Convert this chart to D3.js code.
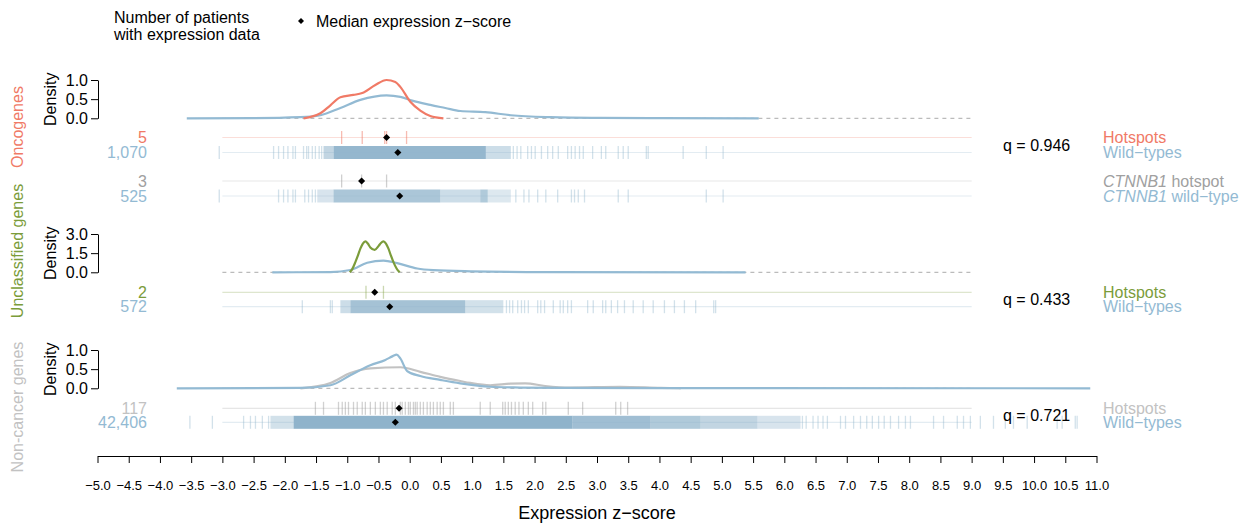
<!DOCTYPE html>
<html>
<head>
<meta charset="utf-8">
<script src="https://cdn.jsdelivr.net/npm/d3@7"></script>
<style>
  body { margin: 0; background: #fff; }
  text { font-family: "Liberation Sans", Arial, Helvetica, sans-serif; }
</style>
</head>
<body>
<svg id="chart"></svg>
<script>
// ---- data ----
const xTickValues = [-5, -4.5, -4, -3.5, -3, -2.5, -2, -1.5, -1, -0.5, 0, 0.5, 1, 1.5, 2, 2.5, 3,
  3.5, 4, 4.5, 5, 5.5, 6, 6.5, 7, 7.5, 8, 8.5, 9, 9.5, 10, 10.5, 11];

const groupNames = ["Oncogenes", "Unclassified genes", "Non-cancer genes"];
const qValues = ["q = 0.946", "q = 0.433", "q = 0.721"];
const densityTicks = [[0, 0.5, 1], [0, 1.5, 3], [0, 0.5, 1]];

const rowCounts = ["5", "1,070", "3", "525", "2", "572", "117", "42,406"];
const rowMedians = [-0.37, -0.19, -0.77, -0.16, -0.56, -0.32, -0.17, -0.23];

// density curves [z, density]
const oncoWildDensity = [[-3.57, 0], [-2.5, 0.005], [-1.75, 0.03], [-1.43, 0.08], [-1.11, 0.27],
  [-0.79, 0.48], [-0.37, 0.6], [-0.15, 0.56], [0.04, 0.46], [0.33, 0.35], [0.57, 0.27], [0.81, 0.19],
  [1.21, 0.16], [1.62, 0.08], [2.25, 0.03], [3.05, 0.01], [4.0, 0.004], [5.59, 0]];
const oncoHotDensity = [[-1.70, 0], [-1.43, 0.13], [-1.27, 0.34], [-1.11, 0.55], [-0.90, 0.61],
  [-0.76, 0.66], [-0.55, 0.87], [-0.37, 1.0], [-0.23, 0.95], [-0.15, 0.82], [0.01, 0.43],
  [0.17, 0.2], [0.33, 0.06], [0.54, 0]];
const uncWildDensity = [[-2.2, 0], [-1.27, 0.02], [-0.95, 0.18], [-0.68, 0.75], [-0.42, 0.92],
  [-0.2, 0.72], [0.12, 0.3], [0.38, 0.17], [0.97, 0.08], [2.2, 0.02], [5.38, 0]];
const uncHotDensity = [[-0.96, 0], [-0.92, 0.25], [-0.87, 0.8], [-0.83, 1.3], [-0.79, 1.85],
  [-0.75, 2.25], [-0.71, 2.42], [-0.67, 2.25], [-0.63, 1.95], [-0.56, 1.76], [-0.50, 2.05],
  [-0.46, 2.3], [-0.42, 2.42], [-0.38, 2.25], [-0.34, 1.85], [-0.30, 1.3], [-0.26, 0.8],
  [-0.21, 0.3], [-0.16, 0]];
const ncWildDensity = [[-3.73, 0], [-1.75, 0.01], [-1.27, 0.08], [-0.95, 0.34], [-0.63, 0.6],
  [-0.39, 0.74], [-0.27, 0.84], [-0.21, 0.88], [-0.15, 0.78], [-0.04, 0.45], [0.17, 0.32],
  [0.49, 0.22], [0.81, 0.13], [1.29, 0.04], [1.77, 0.02], [2.42, 0.01], [4.0, 0.004], [10.9, 0]];
const ncHotDensity = [[-1.75, 0], [-1.27, 0.14], [-0.95, 0.4], [-0.63, 0.52], [-0.15, 0.55],
  [0.17, 0.43], [0.49, 0.3], [0.81, 0.19], [0.97, 0.14], [1.29, 0.08], [1.61, 0.12], [1.85, 0.13],
  [2.17, 0.06], [2.57, 0.02], [3.37, 0.04], [4.02, 0.01], [4.34, 0]];

// rug ticks (single patients) and dense stretches [from, to, opacity]
const oncoHotRug = [-1.09, -0.76, -0.40, -0.37, -0.05];
const oncoWildRug = [-3.05, -2.18, -2.10, -2.02, -1.95, -1.87, -1.83, -1.70, -1.65, -1.62, -1.56,
  -1.51, -1.45, -1.41, 1.66, 1.72, 1.78, 1.89, 1.95, 2.01, 2.11, 2.21, 2.29, 2.38, 2.53, 2.59, 2.65,
  2.72, 2.78, 2.93, 3.07, 3.14, 3.34, 3.42, 3.50, 3.79, 3.82, 4.38, 4.75, 5.02];
const oncoWildBands = [[-1.38, -1.22, 0.55], [-1.22, 1.22, 0.95], [1.22, 1.62, 0.45]];
const ctnnbHotRug = [-1.09, -0.77, -0.37];
const ctnnbWildRug = [-3.05, -2.10, -2.02, -1.95, -1.87, -1.83, -1.68, -1.62, -1.56, -1.51, 1.70,
  1.83, 1.91, 2.05, 2.18, 2.37, 2.59, 2.64, 2.70, 2.80, 3.34, 3.50, 4.75, 5.02];
const ctnnbWildBands = [[-1.48, -1.22, 0.35], [-1.22, 0.49, 0.75], [0.49, 1.13, 0.45],
  [1.13, 1.25, 0.7], [1.25, 1.62, 0.3]];
const uncHotRug = [-0.70, -0.42];
const uncWildRug = [-1.72, -1.27, -1.24, 1.55, 1.60, 1.65, 1.73, 1.79, 1.84, 1.90, 2.05, 2.10,
  2.16, 2.30, 2.41, 2.46, 2.53, 2.59, 2.85, 2.94, 3.09, 3.14, 3.23, 3.33, 3.44, 3.58, 3.74, 3.90,
  4.08, 4.24, 4.40, 4.58, 4.87, 4.90];
const uncWildBands = [[-1.11, -0.95, 0.45], [-0.95, 0.89, 0.8], [0.89, 1.50, 0.4]];
const ncHotRug = [-1.51, -1.38, -1.14, -1.08, -1.03, -0.98, -0.90, -0.84, -0.76, -0.71, -0.63,
  -0.55, -0.47, -0.42, -0.36, -0.28, -0.23, -0.15, -0.12, -0.07, -0.02, 0.01, 0.06, 0.09, 0.12,
  0.17, 0.22, 0.28, 0.33, 0.38, 0.44, 0.49, 0.54, 0.65, 0.70, 1.13, 1.29, 1.49, 1.53, 1.58, 1.63,
  1.69, 1.75, 1.82, 1.90, 1.97, 2.13, 2.18, 2.54, 2.77, 3.30, 3.38, 3.49];
const ncWildRug = [-3.52, -3.16, -2.66, -2.55, -2.47, -2.36, -2.26, 6.29, 6.35, 6.46, 6.54, 6.62,
  6.69, 6.90, 6.98, 7.11, 7.22, 7.32, 7.41, 7.51, 7.60, 7.70, 7.83, 7.94, 8.02, 8.39, 8.55, 8.77,
  8.87, 8.98, 9.14, 9.35, 9.54, 9.67, 9.89, 10.37, 10.45, 10.66, 10.69];
const ncWildBands = [[-2.23, -1.86, 0.4], [-1.86, 2.61, 1.0], [2.61, 3.86, 0.85],
  [3.86, 4.66, 0.7], [4.66, 5.57, 0.55], [5.57, 6.26, 0.35]];

// ---- styling ----
const red = "#f07a66", green = "#7b9c3a", grey = "#c2c2c2", darkGrey = "#a0a0a0";
const blue = "#8fb3cb", blueLine = "#93bad3";

const width = 1249, height = 525;
const svg = d3.select("#chart").attr("width", width).attr("height", height);

const x = d3.scaleLinear().domain([-5, 11]).range([97.5, 1096.5]);
const line = d3.line().x(d => x(d[0])).y(d => d[1]).curve(d3.curveMonotoneX);

// top legend
svg.append("text").attr("x", 114).attr("y", 17).attr("dy", "0.35em")
  .attr("font-size", 16).text("Number of patients");
svg.append("text").attr("x", 114).attr("y", 34).attr("dy", "0.35em")
  .attr("font-size", 16).text("with expression data");
svg.append("path").attr("d", d3.symbol(d3.symbolSquare, 18)())
  .attr("transform", "translate(301,21) rotate(45)").attr("fill", "#000");
svg.append("text").attr("x", 316).attr("y", 21).attr("dy", "0.35em")
  .attr("font-size", 16).text("Median expression z\u2212score");

const panels = [
  {
    name: groupNames[0], color: red, labelY: 127, base: 118.3, ticks: densityTicks[0],
    curves: [[oncoWildDensity, blueLine], [oncoHotDensity, red]], q: qValues[0], qY: 145,
    rows: [
      { y: 137.5, idx: 0, color: red, rug: oncoHotRug, bands: [], label: ["", "Hotspots"], op: 0.5 },
      { y: 152.5, idx: 1, color: blue, rug: oncoWildRug, bands: oncoWildBands, label: ["", "Wild\u2212types"], op: 0.4 },
      { y: 181, idx: 2, color: darkGrey, rug: ctnnbHotRug, bands: [], label: ["CTNNB1", " hotspot"], op: 0.5 },
      { y: 196, idx: 3, color: blue, rug: ctnnbWildRug, bands: ctnnbWildBands, label: ["CTNNB1", " wild\u2212type"], op: 0.4 }
    ]
  },
  {
    name: groupNames[1], color: green, labelY: 251, base: 272.3, ticks: densityTicks[1],
    curves: [[uncWildDensity, blueLine], [uncHotDensity, green]], q: qValues[1], qY: 299,
    rows: [
      { y: 292.3, idx: 4, color: green, rug: uncHotRug, bands: [], label: ["", "Hotspots"], op: 0.4 },
      { y: 306.7, idx: 5, color: blue, rug: uncWildRug, bands: uncWildBands, label: ["", "Wild\u2212types"], op: 0.4 }
    ]
  },
  {
    name: groupNames[2], color: grey, labelY: 407, base: 388.3, ticks: densityTicks[2],
    curves: [[ncHotDensity, grey], [ncWildDensity, blueLine]], q: qValues[2], qY: 415,
    rows: [
      { y: 408.3, idx: 6, color: "#9a9a9a", rug: ncHotRug, bands: [], label: ["", "Hotspots"], op: 0.45 },
      { y: 422.3, idx: 7, color: blue, rug: ncWildRug, bands: ncWildBands, label: ["", "Wild\u2212types"], op: 0.4 }
    ]
  }
];

const labelColors = [red, blueLine, darkGrey, blueLine, green, blueLine, grey, blueLine];

panels.forEach(p => {
  const y = d3.scaleLinear().domain([0, p.ticks[2]]).range([p.base, p.base - 38.3]);

  // group title
  svg.append("text")
    .attr("transform", `translate(17,${p.labelY}) rotate(-90)`)
    .attr("text-anchor", "middle").attr("dy", "0.35em")
    .attr("font-size", 16).attr("fill", p.color).text(p.name);

  // density axis
  const yAxis = svg.append("g").attr("transform", "translate(98,0)")
    .call(d3.axisLeft(y).tickValues(p.ticks).tickFormat(d3.format(".1f"))
      .tickSize(7).tickSizeOuter(0));
  yAxis.selectAll("text").attr("font-size", 16).attr("font-family", null).attr("fill", "#000");
  yAxis.selectAll("line,path").attr("stroke", "#000");
  svg.append("text")
    .attr("transform", `translate(50,${p.base - 19}) rotate(-90)`)
    .attr("text-anchor", "middle").attr("dy", "0.35em")
    .attr("font-size", 16).text("Density");

  // baseline
  svg.append("line")
    .attr("x1", x(-3)).attr("x2", x(9)).attr("y1", p.base).attr("y2", p.base)
    .attr("stroke", "#aaa").attr("stroke-width", 1).attr("stroke-dasharray", "4,4");

  p.curves.forEach(([pts, col]) => {
    svg.append("path")
      .attr("d", line(pts.map(d => [d[0], y(d[1])])))
      .attr("fill", "none").attr("stroke", col).attr("stroke-width", 2.2);
  });

  // rugs
  p.rows.forEach(r => {
    svg.append("line")
      .attr("x1", x(-3)).attr("x2", x(9)).attr("y1", r.y).attr("y2", r.y)
      .attr("stroke", r.color).attr("stroke-opacity", 0.25).attr("stroke-width", 1.2);

    svg.append("g").selectAll("rect").data(r.bands).join("rect")
      .attr("x", d => x(d[0])).attr("width", d => x(d[1]) - x(d[0]))
      .attr("y", r.y - 6.5).attr("height", 13)
      .attr("fill", r.color).attr("fill-opacity", d => d[2]);

    svg.append("g").selectAll("line").data(r.rug).join("line")
      .attr("x1", d => x(d)).attr("x2", d => x(d))
      .attr("y1", r.y - 6.5).attr("y2", r.y + 6.5)
      .attr("stroke", r.color).attr("stroke-opacity", r.op).attr("stroke-width", 1.3);

    svg.append("path").attr("d", d3.symbol(d3.symbolSquare, 25)())
      .attr("transform", `translate(${x(rowMedians[r.idx])},${r.y}) rotate(45)`)
      .attr("fill", "#000");

    svg.append("text")
      .attr("x", 147).attr("y", r.y).attr("dy", "0.35em")
      .attr("text-anchor", "end").attr("font-size", 16)
      .attr("fill", labelColors[r.idx]).text(rowCounts[r.idx]);

    const t = svg.append("text")
      .attr("x", 1103).attr("y", r.y).attr("dy", "0.35em")
      .attr("font-size", 16).attr("fill", labelColors[r.idx]);
    if (r.label[0]) t.append("tspan").attr("font-style", "italic").text(r.label[0]);
    t.append("tspan").text(r.label[1]);
  });

  svg.append("text").attr("x", 1003).attr("y", p.qY).attr("dy", "0.35em")
    .attr("font-size", 16).text(p.q);
});

// x axis
const xAxis = svg.append("g").attr("transform", "translate(0,456)")
  .call(d3.axisBottom(x).tickValues(xTickValues).tickFormat(d3.format(".1f"))
    .tickSize(7).tickSizeOuter(0).tickPadding(18));
xAxis.selectAll("text").attr("font-size", 13).attr("font-family", null).attr("fill", "#000");
xAxis.selectAll("line,path").attr("stroke", "#000");

svg.append("text").attr("x", 597).attr("y", 513).attr("dy", "0.35em")
  .attr("text-anchor", "middle").attr("font-size", 18)
  .text("Expression z\u2212score");
</script>
</body>
</html>
